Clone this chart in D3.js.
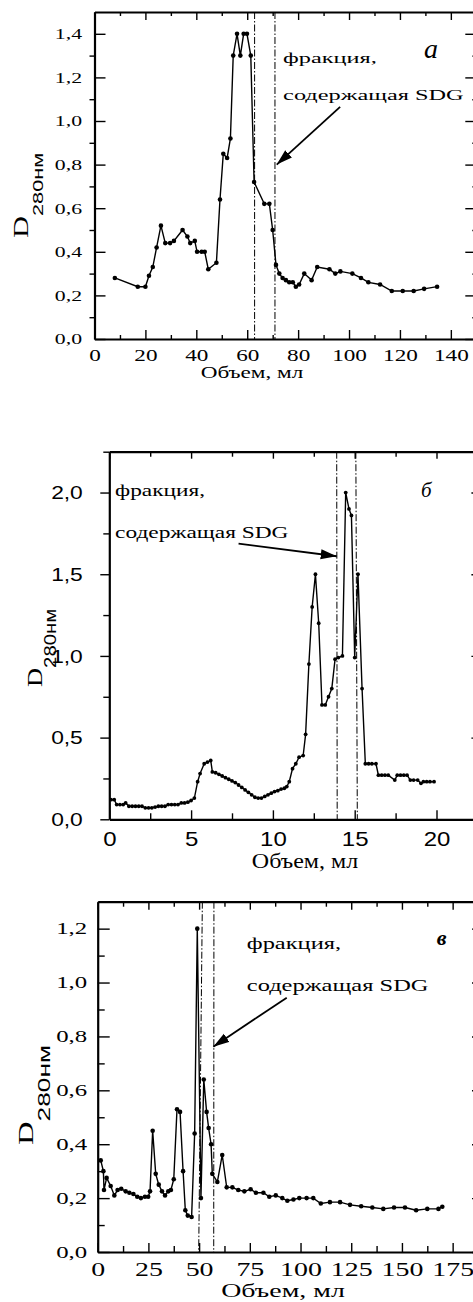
<!DOCTYPE html>
<html>
<head>
<meta charset="utf-8">
<script src="https://cdn.jsdelivr.net/npm/d3@7"></script>
<style>
body { margin: 0; background: #fff; }
svg { display: block; }
</style>
</head>
<body>
<svg id="svg-main" width="473" height="1302"></svg>
<script>
const SERIF = "'Liberation Serif', 'Times New Roman', serif";
const SANS = "'Liberation Sans', Arial, sans-serif";

// панель а
const volumeA = [8, 17, 20, 21.4, 22.9, 24.4, 26.1, 27.8, 29.7, 31.2, 34.6, 36.5, 37.6, 39.4, 40.3,
    42.1, 43.3, 44.7, 47.9, 49.3, 50.6, 52.1, 53.4, 54.5, 56.0, 57.3, 58.6, 59.9, 61.4, 62.7,
    66.7, 68.7, 70.0, 71.3, 72.6, 73.9, 75.2, 76.5, 77.9, 79.1, 80.4, 82.4, 85.3, 87.5, 92.3,
    94.6, 96.6, 101.3, 104.7, 107.6, 112.2, 116.8, 121.1, 125.4, 129.5, 134.6];
const densityA = [0.28, 0.24, 0.24, 0.29, 0.33, 0.42, 0.52, 0.44, 0.44, 0.45, 0.50, 0.47, 0.44, 0.45, 0.40,
    0.40, 0.40, 0.32, 0.35, 0.64, 0.85, 0.83, 0.92, 1.30, 1.40, 1.30, 1.40, 1.40, 1.30, 0.72,
    0.62, 0.62, 0.50, 0.34, 0.30, 0.28, 0.27, 0.26, 0.26, 0.24, 0.25, 0.30, 0.27, 0.33, 0.32,
    0.30, 0.31, 0.30, 0.28, 0.26, 0.25, 0.22, 0.22, 0.22, 0.23, 0.24];
const fractionTopA = [62.9, 70.9];
const fractionBottomA = [62.9, 70.9];
const xTicksA = [0, 20, 40, 60, 80, 100, 120, 140];
const xMinorA = [10, 30, 50, 70, 90, 110, 130, 150];
const yTicksA = [0, 0.2, 0.4, 0.6, 0.8, 1.0, 1.2, 1.4];
const yMinorA = [0.1, 0.3, 0.5, 0.7, 0.9, 1.1, 1.3];

// панель б
const volumeB = [0.1, 0.3, 0.45, 0.65, 0.85, 1.0, 1.2, 1.4, 1.6, 1.8, 2.0, 2.2, 2.4, 2.6, 2.8, 3.0,
    3.2, 3.4, 3.6, 3.8, 4.0, 4.2, 4.4, 4.6, 4.8, 5.0, 5.2, 5.4, 5.55, 5.8, 6.0, 6.2, 6.3,
    6.5, 6.7, 6.9, 7.1, 7.3, 7.5, 7.7, 7.9, 8.1, 8.3, 8.5, 8.7, 8.9, 9.1, 9.3, 9.5, 9.7,
    9.9, 10.1, 10.3, 10.5, 10.7, 10.85, 11.0, 11.2, 11.4, 11.6, 11.85, 12.0, 12.2, 12.4,
    12.6, 12.8, 13.0, 13.2, 13.4, 13.6, 13.8, 14.0, 14.25, 14.45, 14.65, 14.8, 15.0, 15.2,
    15.45, 15.65, 15.85, 16.05, 16.3, 16.45, 16.65, 16.85, 17.05, 17.45, 17.6, 17.8, 18.0,
    18.2, 18.4, 18.6, 18.85, 19.05, 19.2, 19.4, 19.6, 19.85];
const densityB = [0.12, 0.12, 0.09, 0.09, 0.09, 0.10, 0.08, 0.08, 0.08, 0.08, 0.08, 0.07, 0.07, 0.07, 0.075, 0.08,
    0.08, 0.08, 0.09, 0.09, 0.09, 0.09, 0.10, 0.10, 0.105, 0.115, 0.13, 0.23, 0.28, 0.34, 0.35, 0.36, 0.29,
    0.285, 0.275, 0.265, 0.255, 0.245, 0.235, 0.225, 0.21, 0.195, 0.18, 0.165, 0.15, 0.135, 0.13, 0.13, 0.14, 0.15,
    0.16, 0.17, 0.175, 0.185, 0.19, 0.20, 0.23, 0.31, 0.34, 0.38, 0.39, 0.52, 0.95, 1.30,
    1.50, 1.20, 0.70, 0.70, 0.75, 0.80, 0.98, 0.99, 1.00, 2.00, 1.90, 1.86, 0.99, 1.50,
    0.80, 0.34, 0.34, 0.34, 0.34, 0.27, 0.27, 0.27, 0.27, 0.24, 0.27, 0.27, 0.27,
    0.27, 0.24, 0.24, 0.24, 0.22, 0.23, 0.23, 0.23, 0.23];
const fractionTopB = [13.9, 15.07];
const fractionBottomB = [13.93, 15.16];
const xTicksB = [0, 5, 10, 15, 20];
const xMinorB = [2.5, 7.5, 12.5, 17.5, 22.5];
const yTicksB = [0, 0.5, 1.0, 1.5, 2.0];
const yMinorB = [0.25, 0.75, 1.25, 1.75, 2.25];

// панель в
const volumeC = [1.5, 2.8, 3.1, 4.4, 6.4, 8.2, 9.8, 11.6, 13.8, 15.6, 17.6, 19.5, 21.3, 23.3, 24.9,
    25.8, 27.1, 28.6, 30.1, 31.7, 33.2, 34.8, 36.1, 37.5, 39.1, 40.6, 42.1, 43.2, 44.4, 46.3,
    47.8, 49.1, 50.9, 52.3, 53.7, 54.7, 55.9, 56.5, 59.0, 61.4, 63.6, 66.4, 69.3, 72.3, 75.4,
    78.0, 81.7, 84.6, 87.8, 91.0, 93.5, 96.5, 99.4, 103.0, 106.3, 110.0, 114.5, 119.5, 124.4,
    129.9, 135.4, 140.8, 146.1, 151.5, 157.0, 162.5, 168.0, 169.9];
const densityC = [0.34, 0.30, 0.23, 0.275, 0.245, 0.21, 0.23, 0.235, 0.225, 0.22, 0.215, 0.205, 0.20, 0.205, 0.205,
    0.225, 0.45, 0.29, 0.25, 0.225, 0.21, 0.225, 0.23, 0.27, 0.53, 0.52, 0.30, 0.155, 0.135, 0.13,
    0.44, 1.20, 0.20, 0.64, 0.52, 0.46, 0.40, 0.29, 0.26, 0.36, 0.24, 0.24, 0.23, 0.225, 0.233,
    0.22, 0.22, 0.205, 0.21, 0.20, 0.19, 0.195, 0.20, 0.20, 0.20, 0.18, 0.185, 0.185, 0.175,
    0.17, 0.165, 0.16, 0.165, 0.165, 0.155, 0.16, 0.16, 0.168];
const fractionTopC = [51.6, 57.3];
const fractionBottomC = [49.8, 57.2];
const xTicksC = [0, 25, 50, 75, 100, 125, 150, 175];
const xMinorC = [12.5, 37.5, 62.5, 87.5, 112.5, 137.5, 162.5];
const yTicksC = [0, 0.2, 0.4, 0.6, 0.8, 1.0, 1.2];
const yMinorC = [0.1, 0.3, 0.5, 0.7, 0.9, 1.1];

const LABEL_FRACTION = "фракция,";
const LABEL_CONTAINS = "содержащая SDG";
const LABEL_X = "Объем, мл";

var commaFmt = function (d) { return d3.format(".1f")(d).replace(".", ","); };

var panels = [
    {
        id: "a", letter: "a", letterBold: false, letterSize: 28, letterPos: [129.5, 1.29],
        volume: volumeA, density: densityA, fracTop: fractionTopA, fracBottom: fractionBottomA,
        xTicks: xTicksA, xMinor: xMinorA, yTicks: yTicksA, yMinor: yMinorA,
        xDomain: [0, 150], yDomain: [0, 1.5],
        left: 94.5, right: 476.3, top: 12, bottom: 339,
        tickFont: SERIF, tickSize: 15, xTickSize: 16, sx: 1.45, xFmt: d3.format("d"), yFmt: commaFmt,
        xPad: 11, yPad: 12.5,
        ticks: { left: [-11, 5], bottom: [-9, -4], top: [-8, -4], right: [-11, -4] },
        textPos: [74.1, 1.266, 1.097], textSize: 15, textSx: 1.62,
        arrow: [[96.5, 1.065], [71.6, 0.80]],
        xTitle: [252, 378], yTitle: [27.5, 238], subDy: 16, dSize: 21, subSize: 15, r: 2.3
    },
    {
        id: "b", letter: "б", letterBold: false, letterSize: 21, letterPos: [19.05, 1.97],
        volume: volumeB, density: densityB, fracTop: fractionTopB, fracBottom: fractionBottomB,
        xTicks: xTicksB, xMinor: xMinorB, yTicks: yTicksB, yMinor: yMinorB,
        xDomain: [0, 22.5], yDomain: [0, 2.25],
        left: 109.3, right: 477.4, top: 451.7, bottom: 819.3,
        tickFont: SANS, tickSize: 19, xTickSize: 20, sx: 1.2, xFmt: d3.format("d"), yFmt: commaFmt,
        xPad: 13, yPad: 17.5,
        ticks: { left: [9, 6], bottom: [-9, -6], top: [-7, -5], right: [-6, -2] },
        textPos: [0.35, 1.98, 1.72], textSize: 16, textSx: 1.46,
        arrow: [[7.9, 1.687], [13.9, 1.61]],
        xTitle: [305, 868], yTitle: [42, 687], subDy: 13.5, dSize: 22, subSize: 17, r: 1.9
    },
    {
        id: "c", letter: "в", letterBold: true, letterSize: 22, letterPos: [167.2, 1.14],
        volume: volumeC, density: densityC, fracTop: fractionTopC, fracBottom: fractionBottomC,
        xTicks: xTicksC, xMinor: xMinorC, yTicks: yTicksC, yMinor: yMinorC,
        xDomain: [0, 187.5], yDomain: [0, 1.3],
        left: 97.7, right: 478, top: 901.7, bottom: 1252,
        tickFont: SERIF, tickSize: 16, xTickSize: 18, sx: 1.55, xFmt: d3.format("d"), yFmt: commaFmt,
        xPad: 11, yPad: 10.5,
        ticks: { left: [-12, -7], bottom: [-9, -6], top: [-8, -5], right: [-6, -3] },
        textPos: [73.5, 1.124, 0.969], textSize: 17, textSx: 1.44,
        arrow: [[93.2, 0.944], [57.0, 0.762]],
        xTitle: [283, 1297], yTitle: [33.3, 1145], subDy: 16.5, dSize: 21, subSize: 17, r: 2.3
    }
];

var svg = d3.select("svg#svg-main");

svg.append("defs").append("marker")
    .attr("id", "arrow-head")
    .attr("markerUnits", "userSpaceOnUse")
    .attr("markerWidth", 18)
    .attr("markerHeight", 12)
    .attr("refX", 16)
    .attr("refY", 5)
    .attr("orient", "auto")
    .append("path")
    .attr("d", "M0,0 L16,5 L0,10 Z")
    .attr("fill", "#000");

panels.forEach(drawPanel);

function stretchText(sel, sx, font, size) {
    sel.selectAll("text").each(function () {
        var t = d3.select(this);
        var x = +t.attr("x") || 0;
        t.attr("x", x / sx)
            .attr("transform", `scale(${sx},1)`)
            .attr("font-family", font)
            .attr("font-size", size)
            .attr("fill", "#000");
    });
}

function drawPanel(p) {
    var g = svg.append("g").attr("id", "panel-" + p.id);

    var x = d3.scaleLinear().domain(p.xDomain).range([p.left, p.right]);
    var y = d3.scaleLinear().domain(p.yDomain).range([p.bottom, p.top]);

    // оси: основные и промежуточные деления
    var axes = [
        { make: d3.axisBottom, scale: x, pos: `translate(0,${p.bottom})`, t: p.ticks.bottom, major: p.xTicks, minor: p.xMinor, fmt: p.xFmt, pad: p.xPad, label: true },
        { make: d3.axisTop, scale: x, pos: `translate(0,${p.top})`, t: p.ticks.top, major: p.xTicks, minor: p.xMinor },
        { make: d3.axisLeft, scale: y, pos: `translate(${p.left},0)`, t: p.ticks.left, major: p.yTicks, minor: p.yMinor, fmt: p.yFmt, pad: p.yPad, label: true },
        { make: d3.axisRight, scale: y, pos: `translate(${p.right},0)`, t: p.ticks.right, major: p.yTicks, minor: p.yMinor }
    ];

    axes.forEach(function (a) {
        var minorGrp = g.append("g").attr("transform", a.pos)
            .call(a.make(a.scale).tickValues(a.minor).tickSizeInner(a.t[1]).tickSizeOuter(0).tickFormat(""));
        minorGrp.select(".domain").remove();
        minorGrp.selectAll(".tick line").attr("stroke-width", 1.4);

        var ax = a.make(a.scale).tickValues(a.major).tickSizeInner(a.t[0]).tickSizeOuter(0);
        if (a.label) {
            ax.tickFormat(a.fmt).tickPadding(a.pad);
        } else {
            ax.tickFormat("");
        }
        var grp = g.append("g").attr("transform", a.pos).call(ax);
        grp.select(".domain").attr("stroke-width", 2.2);
        grp.selectAll(".tick line").attr("stroke-width", 1.4);
        if (a.label) {
            var size = (a.make === d3.axisBottom) ? p.xTickSize : p.tickSize;
            stretchText(grp, p.sx, p.tickFont, size);
        }
    });

    // границы фракции
    g.selectAll(".fraction-line")
        .data(d3.range(p.fracTop.length))
        .enter()
        .append("line")
        .attr("class", "fraction-line")
        .attr("x1", function (i) { return x(p.fracTop[i]); })
        .attr("x2", function (i) { return x(p.fracBottom[i]); })
        .attr("y1", y(p.yDomain[1]))
        .attr("y2", y(0))
        .attr("stroke", "#000")
        .attr("stroke-width", 1)
        .attr("stroke-dasharray", "7,2,1.5,2");

    var pts = p.volume.map(function (v, i) { return [v, p.density[i]]; });

    g.append("path")
        .datum(pts)
        .attr("fill", "none")
        .attr("stroke", "#000")
        .attr("stroke-width", 1.4)
        .attr("d", d3.line().x(function (d) { return x(d[0]); }).y(function (d) { return y(d[1]); }));

    g.selectAll(".dot")
        .data(pts)
        .enter()
        .append("circle")
        .attr("class", "dot")
        .attr("cx", function (d) { return x(d[0]); })
        .attr("cy", function (d) { return y(d[1]); })
        .attr("r", p.r)
        .attr("fill", "#000");

    // подписи
    [LABEL_FRACTION, LABEL_CONTAINS].forEach(function (str, i) {
        g.append("text")
            .attr("transform", `translate(${x(p.textPos[0])},${y(p.textPos[i + 1])}) scale(${p.textSx},1)`)
            .attr("font-family", SERIF)
            .attr("font-size", p.textSize)
            .text(str);
    });

    g.append("line")
        .attr("x1", x(p.arrow[0][0]))
        .attr("y1", y(p.arrow[0][1]))
        .attr("x2", x(p.arrow[1][0]))
        .attr("y2", y(p.arrow[1][1]))
        .attr("stroke", "#000")
        .attr("stroke-width", 1.8)
        .attr("marker-end", "url(#arrow-head)");

    g.append("text")
        .attr("x", x(p.letterPos[0]))
        .attr("y", y(p.letterPos[1]))
        .attr("font-family", SERIF)
        .attr("font-style", "italic")
        .attr("font-weight", p.letterBold ? "bold" : "normal")
        .attr("font-size", p.letterSize)
        .text(p.letter);

    g.append("text")
        .attr("transform", `translate(${p.xTitle[0]},${p.xTitle[1]}) scale(${p.sx},1)`)
        .attr("text-anchor", "middle")
        .attr("font-family", SERIF)
        .attr("font-size", p.xTickSize)
        .text(LABEL_X);

    var yt = g.append("text")
        .attr("transform", `translate(${p.yTitle[0]},${p.yTitle[1]}) rotate(-90) scale(${p.sx},1)`)
        .attr("font-family", SERIF)
        .attr("font-size", p.dSize);
    yt.append("tspan").text("D");
    yt.append("tspan")
        .attr("font-family", SANS)
        .attr("font-size", p.subSize)
        .attr("dy", p.subDy)
        .text("280нм");
}
</script>
</body>
</html>
